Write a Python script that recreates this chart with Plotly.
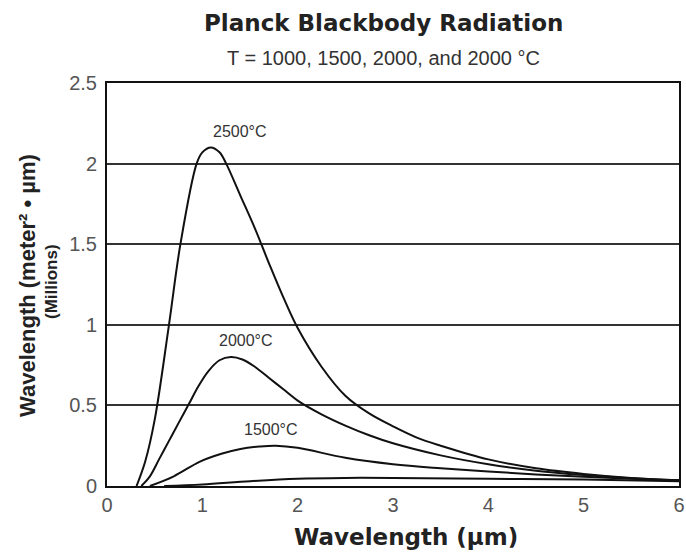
import plotly.graph_objects as go

# ---- data ----
x_2500 = [0.31, 0.40, 0.50, 0.65, 0.77, 0.94, 1.00, 1.09, 1.18, 1.25, 1.40, 1.55, 1.70, 1.85, 2.00, 2.25, 2.50, 2.75, 3.00, 3.25, 3.50, 4.00, 4.50, 5.00, 5.50, 6.00]
y_2500 = [0.00, 0.15, 0.41, 1.00, 1.50, 2.00, 2.07, 2.10, 2.07, 2.00, 1.80, 1.60, 1.38, 1.17, 0.98, 0.74, 0.56, 0.45, 0.37, 0.30, 0.25, 0.165, 0.11, 0.075, 0.05, 0.035]

x_2000 = [0.36, 0.45, 0.55, 0.65, 0.75, 0.86, 0.96, 1.06, 1.18, 1.30, 1.42, 1.55, 1.70, 1.85, 2.00, 2.25, 2.50, 2.75, 3.00, 3.50, 4.00, 4.50, 5.00, 5.50, 6.00]
y_2000 = [0.00, 0.06, 0.17, 0.28, 0.39, 0.51, 0.62, 0.71, 0.78, 0.80, 0.785, 0.74, 0.67, 0.60, 0.53, 0.445, 0.375, 0.315, 0.265, 0.19, 0.135, 0.095, 0.068, 0.048, 0.033]

x_1500 = [0.45, 0.70, 0.97, 1.20, 1.40, 1.60, 1.77, 2.00, 2.50, 3.00, 3.50, 4.00, 4.50, 5.00, 5.50, 6.00]
y_1500 = [0.00, 0.06, 0.15, 0.20, 0.23, 0.245, 0.25, 0.237, 0.175, 0.135, 0.11, 0.09, 0.072, 0.057, 0.045, 0.035]

x_1000 = [0.60, 1.00, 1.50, 2.00, 2.50, 3.00, 4.00, 5.00, 6.00]
y_1000 = [0.00, 0.01, 0.03, 0.045, 0.05, 0.05, 0.045, 0.04, 0.03]

series_names = ["1000°C", "1500°C", "2000°C", "2500°C"]
curve_labels = ["2500°C", "2000°C", "1500°C"]
label_x = [1.39, 1.46, 1.72]
label_y = [2.20, 0.90, 0.35]

x_ticks = [0, 1, 2, 3, 4, 5, 6]
y_ticks = [0, 0.5, 1, 1.5, 2, 2.5]

title_text = "Planck Blackbody Radiation"
subtitle_text = "T = 1000, 1500, 2000, and 2000 °C"
x_title = "Wavelength (µm)"
y_title = "Wavelength (meter² • µm)"
y_title2 = "(Millions)"

# ---- figure ----
W, H = 686, 554
L, R, T, B = 107, 7, 83, 68
pw, ph = W - L - R, H - T - B

def px(xp):
    return (xp - L) / pw

def py(yp):
    return (H - B - yp) / ph

fig = go.Figure()
for xs, ys, nm in [(x_1000, y_1000, series_names[0]),
                   (x_1500, y_1500, series_names[1]),
                   (x_2000, y_2000, series_names[2]),
                   (x_2500, y_2500, series_names[3])]:
    fig.add_trace(go.Scatter(x=xs, y=ys, mode="lines", name=nm,
                             line=dict(color="#111111", width=2, shape="spline", smoothing=1.0),
                             showlegend=False, hoverinfo="skip"))

base_font = "Liberation Sans, Arial, sans-serif"
wide_font = "DejaVu Sans, sans-serif"

for t, lx, ly in zip(curve_labels, label_x, label_y):
    fig.add_annotation(x=lx, y=ly, text=t, showarrow=False,
                       font=dict(family=base_font, size=16, color="#333333"),
                       xanchor="center", yanchor="middle")

fig.add_annotation(xref="paper", yref="paper", x=px(383), y=py(23), text="<b>" + title_text + "</b>",
                   showarrow=False, xanchor="center", yanchor="middle",
                   font=dict(family=wide_font, size=23, color="#222222"))
fig.add_annotation(xref="paper", yref="paper", x=px(383), y=py(58), text=subtitle_text,
                   showarrow=False, xanchor="center", yanchor="middle",
                   font=dict(family=base_font, size=20, color="#333333"))
fig.add_annotation(xref="paper", yref="paper", x=px(406), y=py(537), text="<b>" + x_title + "</b>",
                   showarrow=False, xanchor="center", yanchor="middle",
                   font=dict(family=wide_font, size=23, color="#222222"))
fig.add_annotation(xref="paper", yref="paper", x=px(27), y=py(286), text="<b>" + y_title + "</b>",
                   showarrow=False, xanchor="center", yanchor="middle", textangle=-90,
                   font=dict(family=base_font, size=22, color="#222222"))
fig.add_annotation(xref="paper", yref="paper", x=px(51), y=py(282), text="<b>" + y_title2 + "</b>",
                   showarrow=False, xanchor="center", yanchor="middle", textangle=-90,
                   font=dict(family=base_font, size=17, color="#222222"))

fig.update_layout(
    width=W, height=H,
    margin=dict(l=L, r=R, t=T, b=B, autoexpand=False),
    paper_bgcolor="white", plot_bgcolor="white",
    showlegend=False,
)
fig.update_xaxes(range=[0, 6], tickvals=x_ticks, showgrid=False, zeroline=False,
                 showline=True, linecolor="#111111", linewidth=2, mirror=True,
                 ticks="", ticklabeloverflow="allow",
                 tickfont=dict(family=base_font, size=20, color="#555555"),
                 automargin=False, fixedrange=True)
fig.update_yaxes(range=[0, 2.5], tickvals=y_ticks, showgrid=True, gridcolor="#333333", gridwidth=2,
                 zeroline=False, showline=True, linecolor="#111111", linewidth=2, mirror=True,
                 ticks="", ticklabelstandoff=4,
                 tickfont=dict(family=base_font, size=20, color="#555555"),
                 automargin=False, fixedrange=True)

fig.write_html("out.html")
